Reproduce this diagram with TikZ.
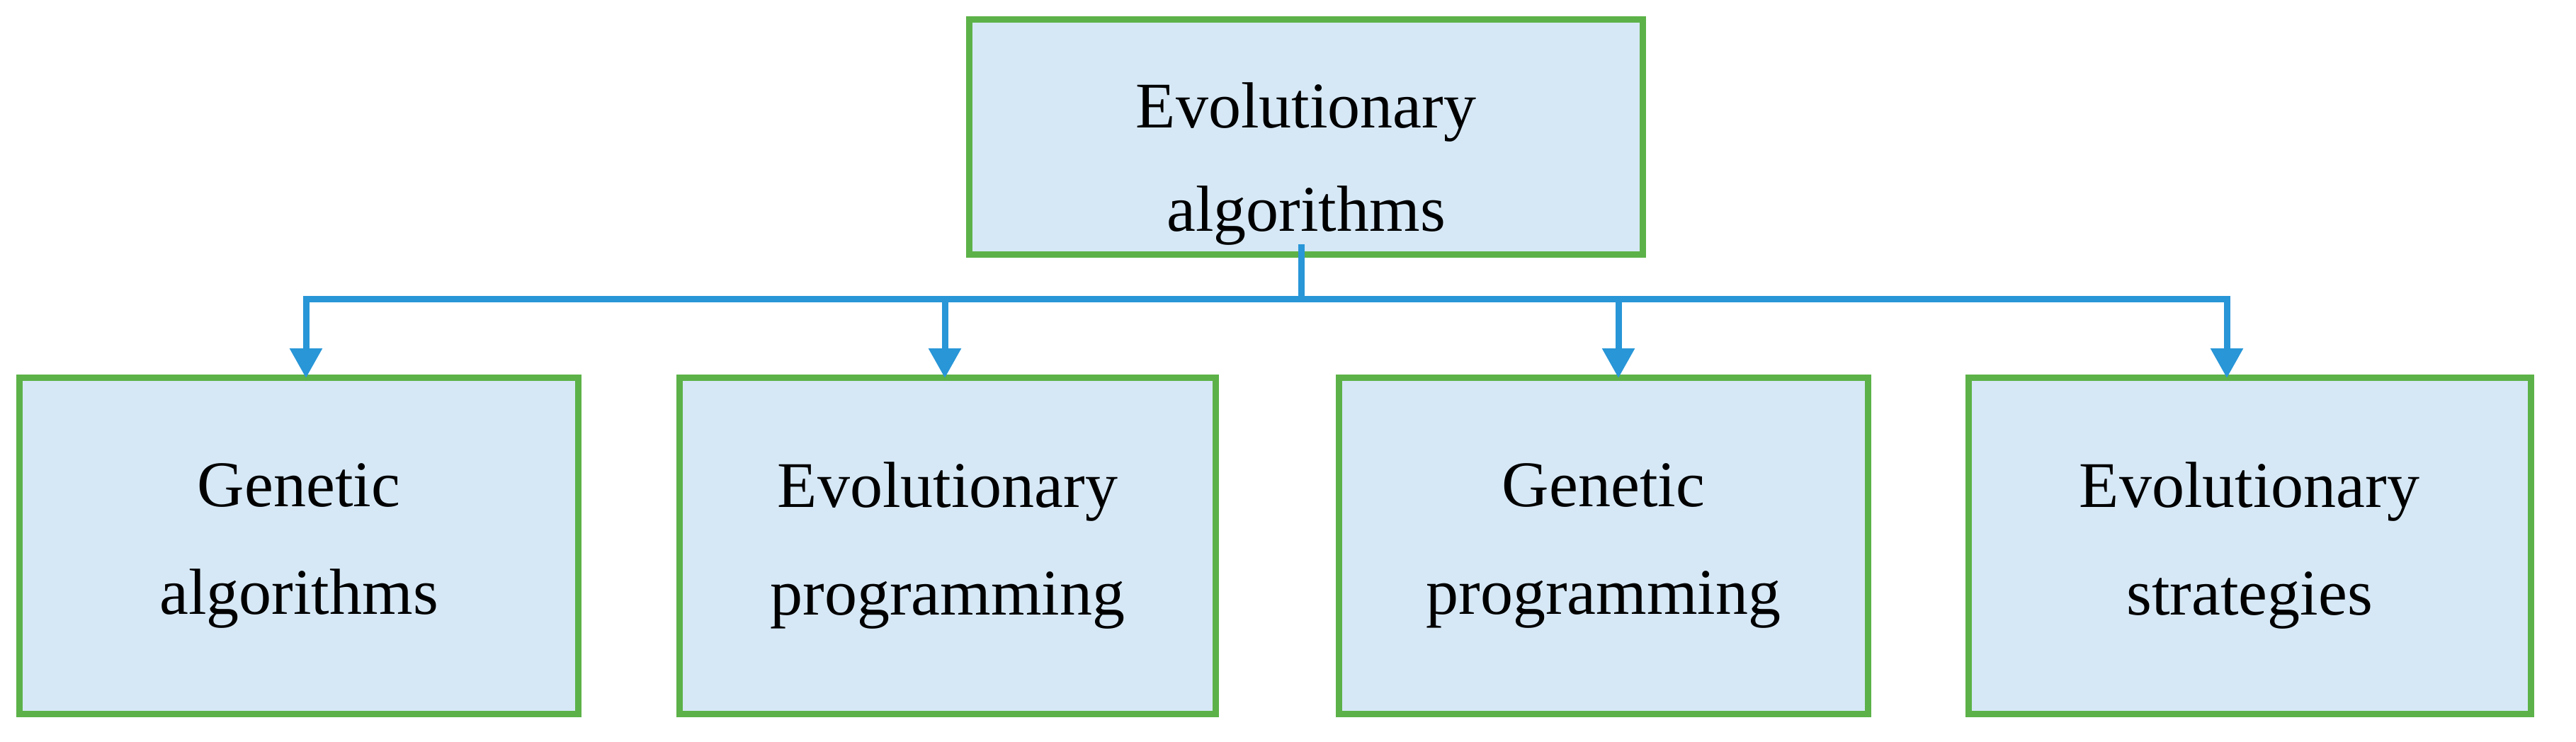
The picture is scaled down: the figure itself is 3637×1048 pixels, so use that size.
\documentclass[tikz,border=0pt]{standalone}
\usepackage{fontspec}
\setmainfont{Liberation Serif}
\usetikzlibrary{arrows.meta}
\definecolor{boxgreen}{RGB}{92,178,72}
\definecolor{boxfill}{RGB}{214,232,246}
\definecolor{lineblue}{RGB}{40,150,215}
\tikzset{
 box/.style={draw=boxgreen,line width=9pt,fill=boxfill,align=center,font=\fontsize{92}{152}\selectfont},
 conn/.style={draw=lineblue,line width=9pt},
 arr/.style={conn,-{Triangle[length=42pt,width=44pt]}}
}
\begin{document}
\begin{tikzpicture}[x=1pt,y=-1pt]
\useasboundingbox (0,0) rectangle (3637,1048);
\node[box,minimum width=951pt,minimum height=332pt] (top) at (1844,194) {};
\node[align=center,font=\fontsize{92}{146}\selectfont] (toptext) at (1844,232) {Evolutionary\\algorithms};
\node[box,minimum width=789pt,minimum height=475pt] (b1) at (422,771) {Genetic\\algorithms};
\node[box,minimum width=757pt,minimum height=475pt] (b2) at (1338,771) {Evolutionary\\programming};
\node[box,minimum width=747pt,minimum height=475pt] (b3) at (2264,771) {Genetic\\programming};
\node[box,minimum width=794pt,minimum height=475pt] (b4) at (3176,771) {Evolutionary\\strategies};
\coordinate (j) at (1837,422);
\draw[conn] (1837,345) -- (j);
\draw[conn] (432,422) -- (3144,422);
\draw[arr] (432,418) -- (432,534);
\draw[arr] (1334,418) -- (1334,534);
\draw[arr] (2285,418) -- (2285,534);
\draw[arr] (3144,418) -- (3144,534);
\end{tikzpicture}
\end{document}
